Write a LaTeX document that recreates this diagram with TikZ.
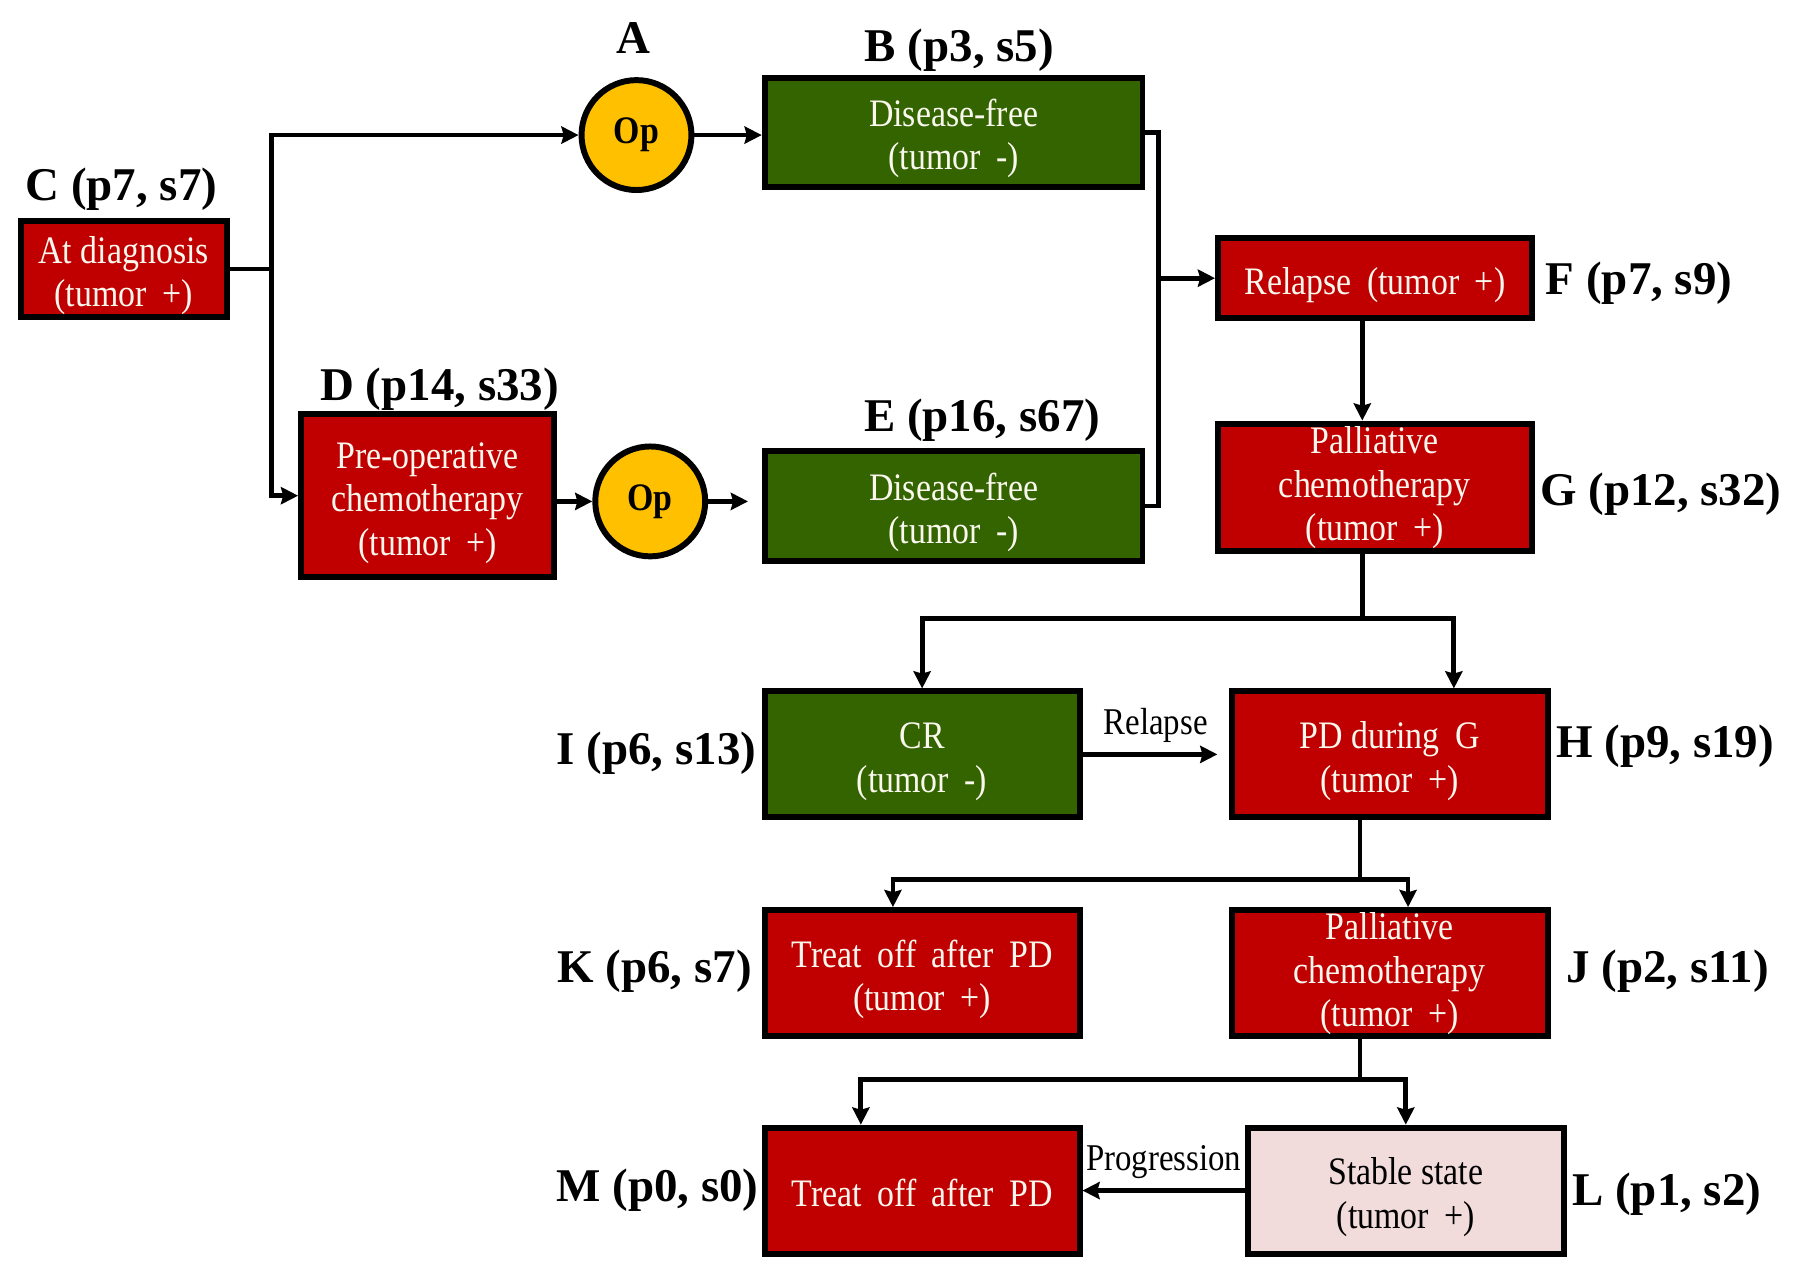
\documentclass[tikz,border=0pt]{standalone}
\usepackage{fontspec}
\setmainfont{Liberation Serif}
\newfontfamily\bxfont[FakeStretch=0.87]{Liberation Serif}
\newfontfamily\lbfont{Liberation Serif}
\usetikzlibrary{arrows.meta,calc}
\definecolor{boxred}{RGB}{192,0,0}
\definecolor{boxgreen}{RGB}{51,100,0}
\definecolor{boxpink}{RGB}{242,220,219}
\definecolor{opyellow}{RGB}{255,192,0}
\definecolor{txtw}{RGB}{250,248,238}
\newcommand\tp{\rule{0pt}{17.5pt}}
\newcommand\tq{\rule{0pt}{12.5pt}}
\newcommand\gp{\hspace{0.4em}}
\tikzset{
  box/.style={draw=black, line width=2.6pt, align=center, inner sep=0pt,
    font=\bxfont\fontsize{17}{19}\selectfont, text=txtw},
  redbox/.style={box, fill=boxred},
  greenbox/.style={box, fill=boxgreen},
  pinkbox/.style={box, fill=boxpink, text=black},
  opnode/.style={circle, draw=black, line width=2.6pt, fill=opyellow, minimum size=48pt,
    inner sep=0pt, font=\bxfont\fontsize{17}{19}\selectfont\bfseries},
  lbl/.style={font=\lbfont\fontsize{20.5}{24}\selectfont\bfseries, inner sep=0pt},
  elbl/.style={font=\bxfont\fontsize{16.5}{19}\selectfont, inner sep=0pt},
  conn/.style={line width=2.1pt},
  arr/.style={line width=2.1pt, -{Stealth[length=7.5pt,width=7.5pt,inset=1pt]}},
}
\begin{document}
\begin{tikzpicture}[x=0.5pt,y=-0.5pt]
\useasboundingbox (0,0) rectangle (1568,1117);

% boxes
\node[redbox, minimum width=90pt, minimum height=42pt] (C) at (108,235) {\tp At diagnosis\\(tumor\gp+)};
\node[opnode] (A) at (556,118) {Op};
\node[greenbox, minimum width=165pt, minimum height=47.5pt] (B) at (833,115.5) {\tp Disease-free\\(tumor\gp-)};
\node[redbox, minimum width=110.5pt, minimum height=71pt] (D) at (373.5,433) {\tp Pre-operative\\chemotherapy\\(tumor\gp+)};
\node[opnode] (O2) at (568,438) {Op};
\node[greenbox, minimum width=165pt, minimum height=48pt] (E) at (833,442) {\tp Disease-free\\(tumor\gp-)};
\node[redbox, minimum width=137pt, minimum height=35pt] (F) at (1201,243) {\tp Relapse\gp(tumor\gp+)};
\node[redbox, minimum width=137pt, minimum height=55.5pt] (G) at (1201,425.5) {\tq Palliative\\chemotherapy\\(tumor\gp+)};
\node[greenbox, minimum width=137.5pt, minimum height=55pt] (I) at (805.5,659) {\tp CR\\(tumor\gp-)};
\node[redbox, minimum width=138pt, minimum height=55pt] (H) at (1214,659) {\tp PD during\gp G\\(tumor\gp+)};
\node[redbox, minimum width=137.5pt, minimum height=55pt] (K) at (805.5,850) {\tp Treat\gp off\gp after\gp PD\\(tumor\gp+)};
\node[redbox, minimum width=138pt, minimum height=55pt] (J) at (1214,850) {\tq Palliative\\chemotherapy\\(tumor\gp+)};
\node[redbox, minimum width=137.5pt, minimum height=55pt] (M) at (805.5,1040) {\rule{0pt}{14pt}Treat\gp off\gp after\gp PD};
\node[pinkbox, minimum width=138pt, minimum height=55pt] (L) at (1228,1040) {\tp Stable state\\(tumor\gp+)};

% labels
\node[lbl] (lA) at (553,33) {A};
\node[lbl] (lB) at (838,44) {B (p3, s5)};
\node[lbl] (lC) at (106,165) {C (p7, s7)};
\node[lbl] (lD) at (384,340) {D (p14, s33)};
\node[lbl] (lE) at (858,367) {E (p16, s67)};
\node[lbl, anchor=west] (lF) at (1350,247) {F (p7, s9)};
\node[lbl, anchor=west] (lG) at (1345,432) {G (p12, s32)};
\node[lbl, anchor=west] (lH) at (1359,652) {H (p9, s19)};
\node[lbl, anchor=east] (lI) at (661,658) {I (p6, s13)};
\node[lbl, anchor=west] (lJ) at (1368,848) {J (p2, s11)};
\node[lbl, anchor=east] (lK) at (657,848) {K (p6, s7)};
\node[lbl, anchor=west] (lL) at (1373,1043) {L (p1, s2)};
\node[lbl, anchor=east] (lM) at (663,1040) {M (p0, s0)};

% junction coordinates
\coordinate (jC) at (237,235);
\coordinate (jBE) at (1012,243);
\coordinate (jG) at (1190,540);
\coordinate (jH) at (1188,768);
\coordinate (jJ) at (1188,943);

% connectors
\draw[conn] (C.east) -- (jC);
\draw[arr] (jC) |- (A.west);
\draw[arr] (jC) |- (D.west);
\draw[arr] (A.east) -- (A.east -| B.west);
\draw[arr] (D.east |- O2) -- (O2.west);
\draw[arr, shorten >=6pt] (O2.east) -- (O2.east -| E.west);
\draw[conn] (B.east) -| (jBE) |- (E.east);
\draw[arr] (jBE) -- (F.west);
\draw[arr] (F.south -| jG) -- (G.north -| jG);
\draw[conn] (G.south -| jG) -- (jG);
\draw[arr] (jG) -| (I.north);
\draw[arr] (jG) -| ([xshift=28pt]H.north);
\draw[arr, shorten >=5pt] (I.east) -- node[elbl, above=4pt] (rl) {Relapse} (H.west);
\draw[conn] (H.south -| jH) -- (jH);
\draw[arr] (jH) -| ([xshift=-12.75pt]K.north);
\draw[arr] (jH) -| ([xshift=8pt]J.north);
\draw[conn] (J.south -| jJ) -- (jJ);
\draw[arr] (jJ) -| ([xshift=-26.75pt]M.north);
\draw[arr] (jJ) -| (L.north);
\draw[arr] (L.west) -- node[elbl, above=4pt] (pg) {Progression} (M.east);
\end{tikzpicture}
\end{document}
